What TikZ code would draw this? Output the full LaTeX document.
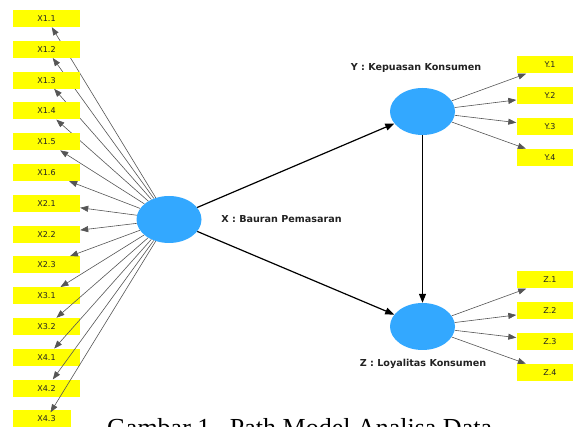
\documentclass[tikz,border=0pt]{standalone}
\usepackage{fontspec}
\setmainfont{DejaVu Sans}
\newfontfamily\capfont{Liberation Serif}
\usepackage{tikz}
\usetikzlibrary{arrows.meta,positioning,shapes.geometric}
\definecolor{PMYellow}{HTML}{FFFF00}
\definecolor{PMBlue}{HTML}{33A8FF}
\definecolor{PMInk}{HTML}{222222}
\definecolor{PMGrey}{HTML}{555555}
\tikzset{
  indbox/.style={fill=PMYellow,minimum width=67pt,minimum height=17pt,
                 inner sep=0pt,font=\fontsize{8}{9}\selectfont,text=PMInk},
  latent/.style={ellipse,fill=PMBlue,minimum width=65pt,minimum height=47pt,
                 inner sep=0pt},
  latlabel/.style={font=\bfseries\fontsize{9.6}{11}\selectfont,text=PMInk},
  loading/.style={PMGrey,line width=0.6pt,-{Triangle[length=8pt,width=6pt]}},
  pathline/.style={black,line width=1.2pt,-{Triangle[length=9pt,width=7pt]}},
}
\begin{document}
\begin{tikzpicture}[x=1pt,y=-1pt]
  \path[use as bounding box,clip] (0,0) rectangle (573,427);
  % latent variables
  \node[latent] (X) at (169,219.5) {};
  \node[latent] (Y) at (422.5,111.5) {};
  \node[latent] (Z) at (422.5,326.5) {};
  \node[latlabel] (xlab) at (281.5,219) {X : Bauran Pemasaran};
  \node[latlabel] (ylab) at (416,68) {Y : Kepuasan Konsumen};
  \node[latlabel] (zlab) at (423,364) {Z : Loyalitas Konsumen};
  % indicators of X
  \foreach \lbl [count=\i from 0] in {X1.1,X1.2,X1.3,X1.4,X1.5,X1.6,X2.1,
      X2.2,X2.3,X3.1,X3.2,X4.1,X4.2} {
    \node[indbox] (x\i) at (46.5,18.5+30.8*\i) {\lbl};
    \draw[loading] (X) -- (x\i);
  }
  \fill[PMYellow] (13,410) rectangle (71,427);
  \node[font=\fontsize{8}{9}\selectfont,text=PMInk] (x13) at (46.5,418.9) {X4.3};
  \draw[loading] (X) -- (x13);
  % indicators of Y and Z
  \foreach \i in {1,...,4} {
    \node[indbox] (y\i) at (550,65+30.8*\i-30.8) {Y.\i};
    \node[indbox] (z\i) at (550,280+30.8*\i-30.8) {Z.\i};
    \draw[loading] (Y) -- (y\i);
    \draw[loading] (Z) -- (z\i);
  }
  % structural paths
  \draw[pathline] (X) -- (Y);
  \draw[pathline] (X) -- (Z);
  \draw[pathline] (Y) -- (Z);
  % caption
  \node[anchor=base west,inner sep=0pt,font=\capfont\fontsize{26}{30}\selectfont]
    (cap) at (107,436) {Gambar 1.\ \ Path Model Analisa Data};
\end{tikzpicture}
\end{document}
